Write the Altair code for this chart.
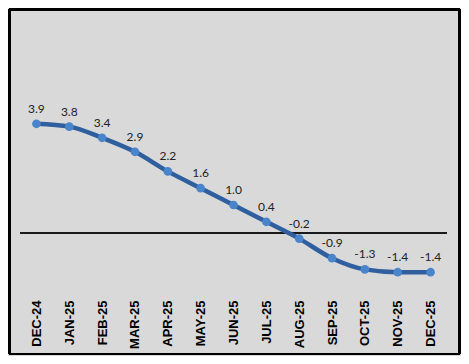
import altair as alt
import pandas as pd

months = ["DEC-24", "JAN-25", "FEB-25", "MAR-25", "APR-25", "MAY-25", "JUN-25",
          "JUL-25", "AUG-25", "SEP-25", "OCT-25", "NOV-25", "DEC-25"]
values = [3.9, 3.8, 3.4, 2.9, 2.2, 1.6, 1.0, 0.4, -0.2, -0.9, -1.3, -1.4, -1.4]
labels = ["3.9", "3.8", "3.4", "2.9", "2.2", "1.6", "1.0", "0.4", "-0.2", "-0.9", "-1.3", "-1.4", "-1.4"]

df = pd.DataFrame({"month": months, "value": values, "label": labels})

W, H = 427, 280

x = alt.X("month:N", sort=months,
          scale=alt.Scale(type="point", padding=0.5),
          axis=alt.Axis(title=None, labelAngle=-90, labelFontWeight="bold",
                        labelFontSize=13, labelFont="Liberation Sans", labelColor="black",
                        domain=False, ticks=False, grid=False, labelPadding=11))
y = alt.Y("value:Q", scale=alt.Scale(domain=[-2, 8]), axis=None)

base = alt.Chart(df)

zero = base.transform_calculate(zero="0").mark_rule(color="#1a1a1a", strokeWidth=2).encode(
    y=alt.Y("zero:Q", axis=None))

fc = "black"
top = base.mark_rule(color=fc, strokeWidth=3).encode(
    x=alt.value(-10.5), x2=alt.value(439.5), y=alt.value(0.5))
bottom = base.mark_rule(color=fc, strokeWidth=2).encode(
    x=alt.value(-10.5), x2=alt.value(439.5), y=alt.value(345))
left = base.mark_rule(color=fc, strokeWidth=3).encode(
    x=alt.value(-10.5), y=alt.value(0.5), y2=alt.value(345))
right = base.mark_rule(color=fc, strokeWidth=2).encode(
    x=alt.value(439.5), y=alt.value(0.5), y2=alt.value(345))

line = base.mark_line(color="#2f5f9e", strokeWidth=4.5, interpolate="monotone").encode(x=x, y=y)
pts = base.mark_circle(color="#4a85cc", opacity=1, size=75).encode(x=x, y=y)
txt = base.mark_text(dy=-15, fontSize=12, font="Lato", color="#222222").encode(
    x=x, y=y, text="label:N")

chart = alt.layer(zero, line, pts, txt, top, bottom, left, right).properties(
    width=W, height=H,
    background="#d9d9d9",
    padding={"left": 12, "top": 1, "right": 14, "bottom": 67},
    autosize=alt.AutoSizeParams(type="none"),
).configure_view(stroke=None)

chart.save("out.html", embed_options={"renderer": "svg", "actions": False})
